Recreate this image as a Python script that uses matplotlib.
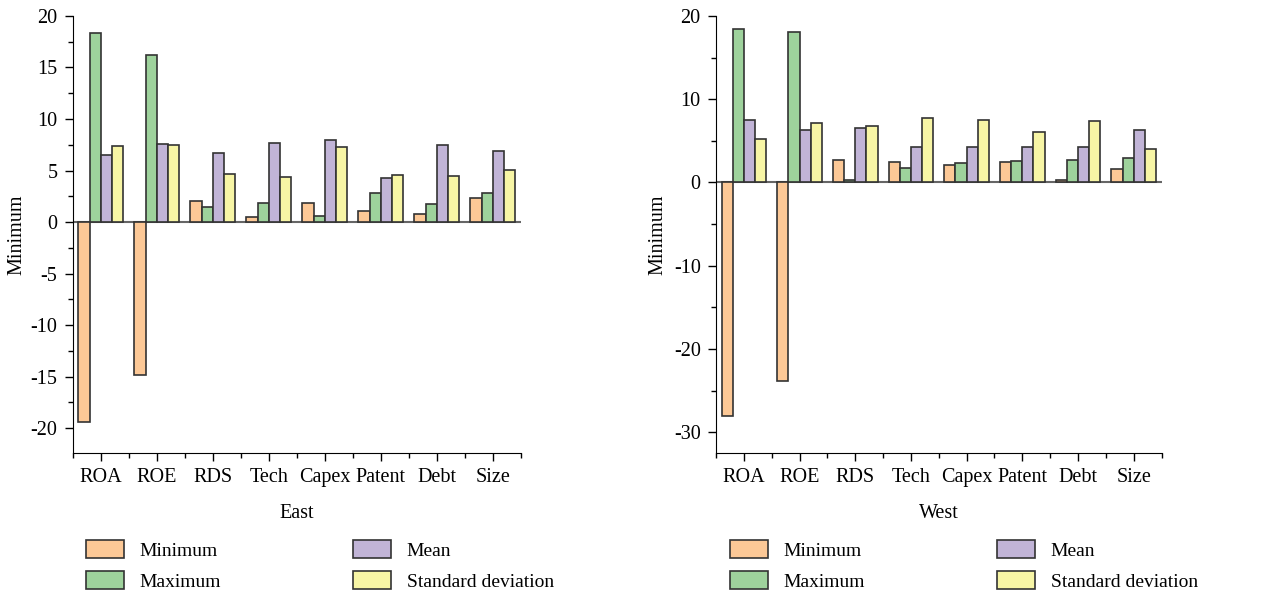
import numpy as np
import matplotlib.pyplot as plt
from matplotlib.ticker import MultipleLocator, FixedLocator

plt.rcParams['font.family'] = ['Liberation Serif', 'DejaVu Serif']
plt.rcParams['font.size'] = 14
plt.rcParams['axes.unicode_minus'] = False

categories = ["ROA", "ROE", "RDS", "Tech", "Capex", "Patent", "Debt", "Size"]
series_names = ["Minimum", "Maximum", "Mean", "Standard deviation"]
colors = ["#FCC896", "#9ED29C", "#C1B4D7", "#F7F5A5"]

# East region
east_min = [-19.4, -14.8, 2.04, 0.45, 1.88, 1.04, 0.78, 2.33]
east_max = [18.38, 16.17, 1.43, 1.85, 0.55, 2.85, 1.78, 2.85]
east_mean = [6.48, 7.58, 6.68, 7.68, 7.97, 4.28, 7.49, 6.87]
east_sd = [7.39, 7.49, 4.70, 4.41, 7.33, 4.60, 4.51, 5.09]

# West region
west_min = [-28.0, -23.8, 2.72, 2.44, 2.04, 2.40, 0.28, 1.60]
west_max = [18.44, 18.08, 0.28, 1.68, 2.28, 2.52, 2.64, 2.92]
west_mean = [7.56, 6.24, 6.48, 4.28, 4.28, 4.28, 4.28, 6.24]
west_sd = [5.16, 7.08, 6.80, 7.80, 7.48, 6.08, 7.36, 3.96]

fig = plt.figure(figsize=(12.63, 5.95), dpi=100)
ax_e = fig.add_axes([0.0576, 0.2387, 0.3547, 0.7345])
ax_w = fig.add_axes([0.5669, 0.2387, 0.3528, 0.7345])

panels = [
    (ax_e, [east_min, east_max, east_mean, east_sd], "East", (-22.4, 20), 5, 0.0681, -0.104),
    (ax_w, [west_min, west_max, west_mean, west_sd], "West", (-32.5, 20), 10, 0.5779, -0.108),
]

x = np.arange(len(categories))
w = 0.2
for ax, data, title, ylim, step, leg_x, ylab_x in panels:
    handles = []
    for i, (vals, col, name) in enumerate(zip(data, colors, series_names)):
        h = ax.bar(x + (i - 1.5) * w, vals, w, color=col, edgecolor="#333333",
                   linewidth=1.2, label=name, zorder=3)
        handles.append(h)
    ax.axhline(0, color="#666666", linewidth=1.5, zorder=2)

    ax.set_xlim(-0.5, len(categories) - 0.5)
    ax.set_ylim(*ylim)
    ax.set_xticks(x)
    ax.set_xticklabels(categories)
    ax.xaxis.set_minor_locator(FixedLocator(np.arange(-0.5, len(categories), 1)))
    ax.yaxis.set_major_locator(MultipleLocator(step))
    ax.yaxis.set_minor_locator(MultipleLocator(step / 2))
    ax.tick_params(which="major", direction="out", length=6, width=1, pad=5,
                   labelsize=14.5)
    ax.tick_params(which="minor", direction="out", length=3.5, width=1)
    for s in ["top", "right"]:
        ax.spines[s].set_visible(False)
    ax.set_ylabel("Minimum", fontsize=14.5)
    ax.yaxis.set_label_coords(ylab_x, 0.5)
    ax.set_xlabel(title, fontsize=14.5, labelpad=12)

    fig.legend(handles=handles, loc="upper left",
               bbox_to_anchor=(leg_x, 1 - 540 / 595), ncol=2, frameon=False,
               fontsize=14, handlelength=1.95, handleheight=1.05,
               handletextpad=0.8, columnspacing=6.8, labelspacing=0.6,
               borderpad=0, borderaxespad=0)

fig.savefig("out.png", dpi=100)
